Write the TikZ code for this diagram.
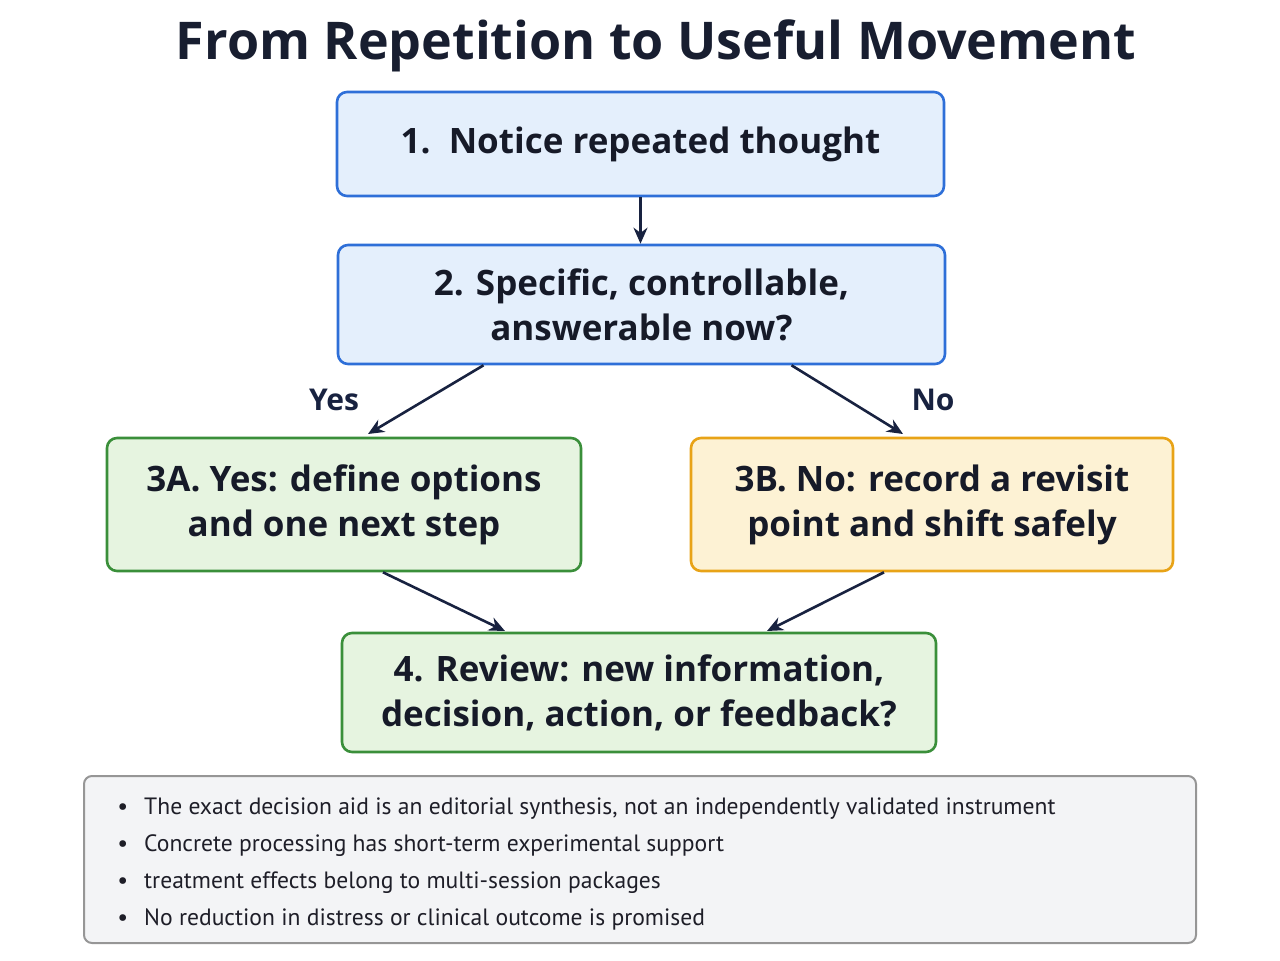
\documentclass[tikz,border=0pt]{standalone}
\usepackage{fontspec}
\setmainfont{Open Sans}
\newfontfamily\notefont{PT Sans}
\usetikzlibrary{arrows.meta}
\begin{document}
\begin{tikzpicture}[x=0.5pt,y=-0.5pt,
  box/.style={draw, line width=1.3pt, rounded corners=5pt, inner sep=0pt, align=center, font=\fontsize{17.5}{22.5}\selectfont\bfseries, text={rgb,255:red,22;green,26;blue,40}},
  blue/.style={box, fill={rgb,255:red,228;green,239;blue,252}, draw={rgb,255:red,46;green,111;blue,216}},
  green/.style={box, fill={rgb,255:red,230;green,244;blue,224}, draw={rgb,255:red,58;green,143;blue,58}},
  yellow/.style={box, fill={rgb,255:red,253;green,242;blue,212}, draw={rgb,255:red,232;green,163;blue,23}},
  arr/.style={-{Stealth[length=8pt,width=7pt]}, line width=1.3pt, draw={rgb,255:red,24;green,34;blue,64}},
  lab/.style={font=\fontsize{15}{18}\selectfont\bfseries, text={rgb,255:red,24;green,34;blue,64}}]
\useasboundingbox (0,0) rectangle (1280,960);
\node[font=\fontsize{26}{30}\selectfont\bfseries, text={rgb,255:red,24;green,30;blue,48}] (title) at (656,46) {From Repetition to Useful Movement};
\node[blue, minimum width=303.5pt, minimum height=52pt] (n1) at (640.5,144) {1.\ \ Notice repeated thought};
\node[blue, minimum width=303.5pt, minimum height=59.5pt] (n2) at (641.5,304.5) {2. Specific, controllable,\\answerable now?};
\node[green, minimum width=237pt, minimum height=66.5pt] (n3a) at (344,504.5) {3A. Yes: define options\\and one next step};
\node[yellow, minimum width=241pt, minimum height=66.5pt] (n3b) at (932,504.5) {3B. No: record a revisit\\point and shift safely};
\node[green, minimum width=297pt, minimum height=59.5pt] (n4) at (639,692.5) {4. Review: new information,\\decision, action, or feedback?};
\node[draw={rgb,255:red,150;green,150;blue,150}, line width=1pt, rounded corners=4pt, fill={rgb,255:red,243;green,244;blue,246}, minimum width=556pt, minimum height=83.5pt] (note) at (640,859.5) {};
\node[anchor=north west, align=left, inner sep=0pt, font=\notefont\fontsize{11.8}{18.5}\selectfont, text={rgb,255:red,30;green,30;blue,40}] (notes) at (117,797) {%
{\large\textbullet}\hspace{8pt}The exact decision aid is an editorial synthesis, not an independently validated instrument\\
{\large\textbullet}\hspace{8pt}Concrete processing has short-term experimental support\\
{\large\textbullet}\hspace{8pt}treatment effects belong to multi-session packages\\
{\large\textbullet}\hspace{8pt}No reduction in distress or clinical outcome is promised};
\coordinate (a3a) at (368,434);
\coordinate (a3b) at (903,434);
\coordinate (a4l) at (505,631);
\coordinate (a4r) at (767,631);
\draw[arr] (n1.south) -- (n1.south |- n2.north);
\draw[arr] ([xshift=-79pt]n2.south) -- (a3a);
\draw[arr] ([xshift=75pt]n2.south) -- (a3b);
\draw[arr] ([xshift=19.5pt]n3a.south) -- (a4l);
\draw[arr] ([xshift=-24pt]n3b.south) -- (a4r);
\node[lab] (yes) at (334,400) {Yes};
\node[lab] (no) at (933,400) {No};
\end{tikzpicture}
\end{document}
